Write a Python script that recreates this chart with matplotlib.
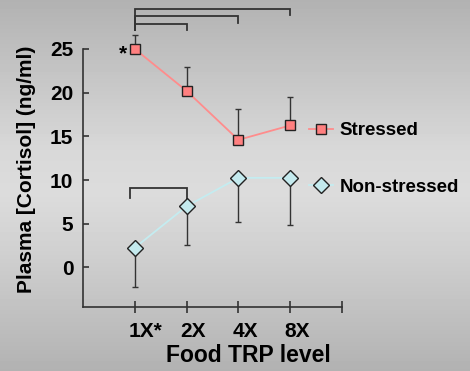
import numpy as np
import matplotlib
matplotlib.use("Agg")
import matplotlib.pyplot as plt
import matplotlib.transforms as mtransforms

plt.rcParams['font.family'] = ['Liberation Sans', 'DejaVu Sans']
plt.rcParams['font.weight'] = 'bold'

# ---- data ----
categories = ["1X*", "2X", "4X", "8X"]
stressed = [25.0, 20.2, 14.6, 16.25]
stressed_err_up = [1.6, 2.7, 3.5, 3.2]
nonstressed = [2.25, 7.0, 10.25, 10.25]
nonstressed_err_down = [4.55, 4.45, 5.05, 5.4]
series_labels = ["Stressed", "Non-stressed"]
xlabel = "Food TRP level"
ylabel = "Plasma [Cortisol] (ng/ml)"
yticks = [0, 5, 10, 15, 20, 25]
# significance brackets: (x_start, x_end, y_bar, y_left_end, y_right_end)
brackets = [
    (1, 4, 29.55, 27.2, 28.9),
    (1, 3, 28.75, 27.2, 27.95),
    (1, 2, 27.85, 27.2, 27.2),
    (0.91, 2, 9.08, 7.95, 7.75),
]

W, H = 470, 371
fig = plt.figure(figsize=(W / 100, H / 100), dpi=100)

# gradient background
bg = fig.add_axes([0, 0, 1, 1], zorder=-10)
yy = np.linspace(0, 1, 371)
stops_y = [0.0, 0.40, 0.52, 0.68, 1.0]
stops_v = [0xb2, 0xd8, 0xdc, 0xd0, 0xb2]
vals = np.interp(yy, stops_y, stops_v) / 255.0
img = np.repeat(vals[:, None], 2, axis=1)
bg.imshow(img, cmap='gray', vmin=0, vmax=1, aspect='auto', extent=[0, 1, 1, 0])
bg.set_axis_off()

ax = fig.add_axes([83 / W, 1 - 306.7 / H, (342 - 83) / W, (306.7 - 49) / H])
ax.patch.set_alpha(0)

x = np.arange(1, len(categories) + 1)

s_col = '#ff8080'
s_line = '#ff8c8c'
n_col = '#c4eaee'
n_line = '#c4ecf0'
ecol = '#333333'

ax.errorbar(x, stressed, yerr=[np.zeros(4), stressed_err_up], fmt='none',
            ecolor=ecol, elinewidth=1.0, capsize=2, capthick=1.0, clip_on=False, zorder=2)
ax.errorbar(x, nonstressed, yerr=[nonstressed_err_down, np.zeros(4)], fmt='none',
            ecolor=ecol, elinewidth=1.0, capsize=2, capthick=1.0, clip_on=False, zorder=2)
ax.plot(x, stressed, color=s_line, lw=1.3, marker='s', markersize=7.5,
        markerfacecolor=s_col, markeredgecolor='#222222', markeredgewidth=1.0,
        clip_on=False, zorder=3, label=series_labels[0])
ax.plot(x, nonstressed, color=n_line, lw=1.3, marker='D', markersize=8,
        markerfacecolor=n_col, markeredgecolor='#222222', markeredgewidth=1.0,
        clip_on=False, zorder=3, label=series_labels[1])

for (x0, x1, yb, yl, yr) in brackets:
    ax.plot([x0, x0, x1, x1], [yl, yb, yb, yr], color='#333333', lw=1.3,
            clip_on=False, solid_joinstyle='miter')

ax.text(0.85, 24.4, "*", ha='right', va='center', fontsize=15, fontweight='bold')

ax.set_xlim(0, 5)
ax.set_ylim(-4.5, 25)
ax.set_xticks(list(x) + [5])
ax.set_xticklabels(categories + [""], fontweight='bold')
ax.set_yticks(yticks)
ax.set_yticklabels([str(v) for v in yticks], fontweight='bold')
ax.tick_params(axis='y', direction='in', length=4, width=1.2, color='#333333',
               pad=7, labelsize=15)
ax.tick_params(axis='x', direction='inout', length=8, width=1.2, color='#333333',
               pad=7, labelsize=15)
offset = mtransforms.ScaledTranslation(-6 / 100, 0, fig.dpi_scale_trans)
for lab in ax.get_xticklabels():
    lab.set_horizontalalignment('left')
    lab.set_transform(lab.get_transform() + offset)
for sp in ['top', 'right']:
    ax.spines[sp].set_visible(False)
for sp in ['left', 'bottom']:
    ax.spines[sp].set_color('#333333')
    ax.spines[sp].set_linewidth(1.2)

fig.text(248 / W, 1 - 355 / H, xlabel, ha='center', va='center',
         fontsize=16.5, fontweight='bold')
fig.text(27 / W, 1 - 169 / H, ylabel, ha='center', va='center',
         rotation=90, fontsize=15, fontweight='bold')

leg = ax.legend(loc='upper left', bbox_to_anchor=(309 / W, 1 - 122 / H),
                bbox_transform=fig.transFigure, frameon=False,
                prop={'size': 13.5, 'weight': 'bold'},
                handlelength=1.3, handletextpad=0.35, labelspacing=2.1,
                borderpad=0, borderaxespad=0)

fig.savefig("out.png", dpi=100)
